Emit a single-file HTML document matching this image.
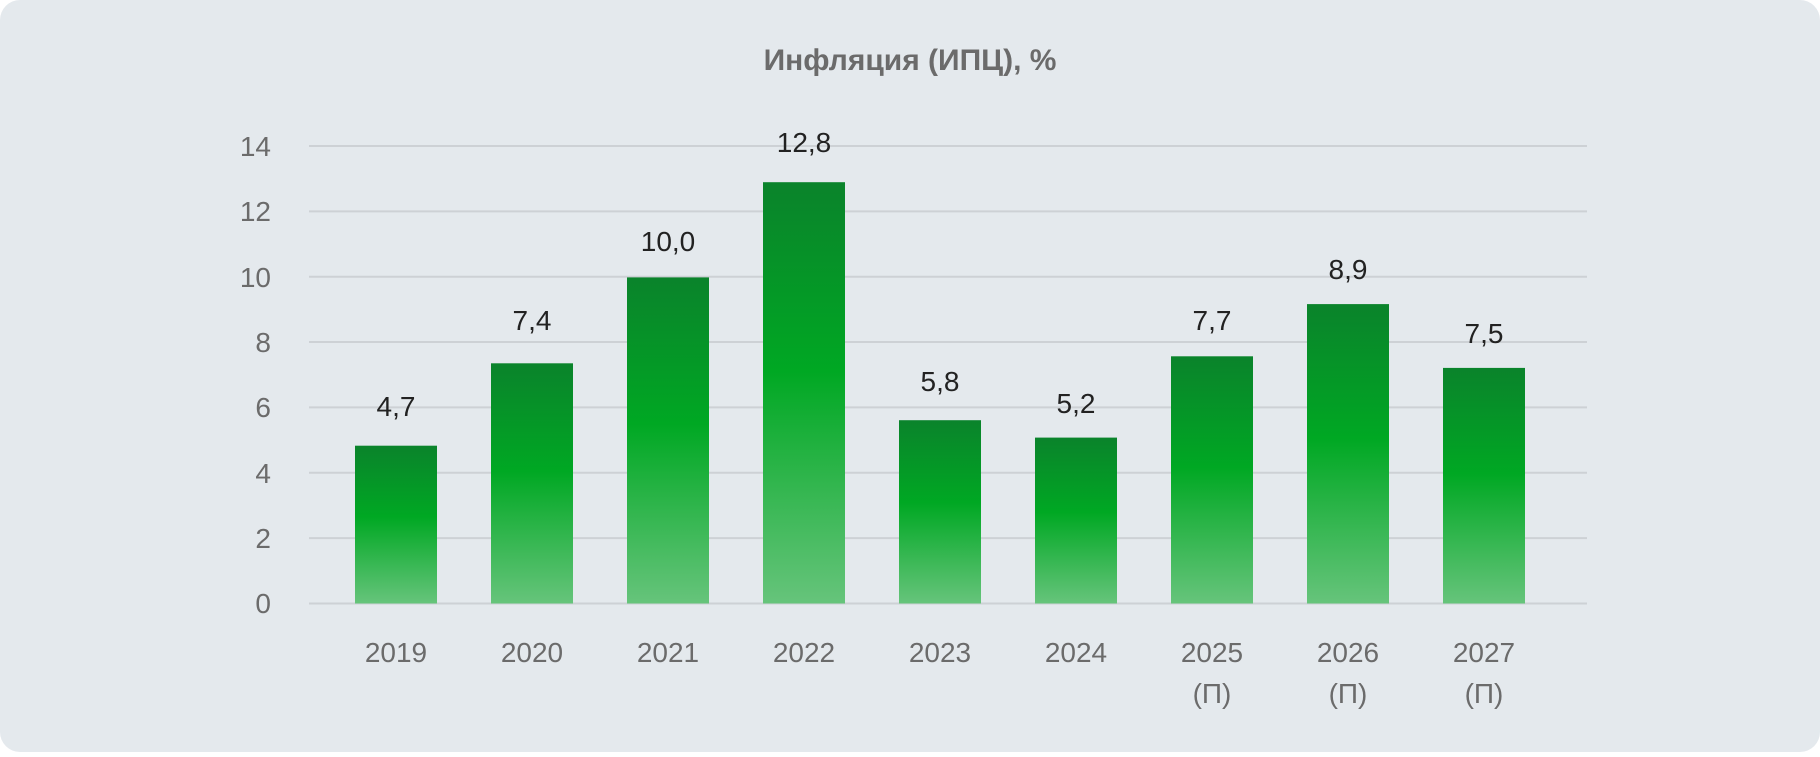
<!DOCTYPE html>
<html><head><meta charset="utf-8"><style>
html,body{margin:0;padding:0;background:#fff;}
body{width:1820px;height:752px;overflow:hidden;font-family:"Liberation Sans","DejaVu Sans",sans-serif;}
</style></head><body>
<svg width="1820" height="752" xmlns="http://www.w3.org/2000/svg" font-family="Liberation Sans, DejaVu Sans, sans-serif">
<defs>
<linearGradient id="g" x1="0" y1="0" x2="0" y2="1">
<stop offset="0" stop-color="#0a832b"/>
<stop offset="0.45" stop-color="#00a823"/>
<stop offset="1" stop-color="#66c47b"/>
</linearGradient>
</defs>
<rect x="0" y="0" width="1820" height="752" rx="20" fill="#e4e9ed"/>
<text x="910" y="70" text-anchor="middle" font-size="30" font-weight="bold" fill="#6b6b6b">Инфляция (ИПЦ), %</text>
<g stroke="#cdd1d5" stroke-width="2">
<line x1="309" x2="1587" y1="146" y2="146"/>
<line x1="309" x2="1587" y1="211.4" y2="211.4"/>
<line x1="309" x2="1587" y1="276.7" y2="276.7"/>
<line x1="309" x2="1587" y1="342" y2="342"/>
<line x1="309" x2="1587" y1="407.4" y2="407.4"/>
<line x1="309" x2="1587" y1="472.8" y2="472.8"/>
<line x1="309" x2="1587" y1="538.1" y2="538.1"/>
<line x1="309" x2="1587" y1="603.5" y2="603.5"/>
</g>
<g font-size="28" fill="#6b6b6b" text-anchor="end">
<text x="271" y="156">14</text>
<text x="271" y="221">12</text>
<text x="271" y="287">10</text>
<text x="271" y="352">8</text>
<text x="271" y="417">6</text>
<text x="271" y="483">4</text>
<text x="271" y="548">2</text>
<text x="271" y="613">0</text>
</g>
<g fill="url(#g)">
<rect x="355" y="445.7" width="82" height="157.8"/>
<rect x="491" y="363.3" width="82" height="240.2"/>
<rect x="627" y="277.4" width="82" height="326.1"/>
<rect x="763" y="182.2" width="82" height="421.3"/>
<rect x="899" y="420.2" width="82" height="183.3"/>
<rect x="1035" y="437.6" width="82" height="165.9"/>
<rect x="1171" y="356.3" width="82" height="247.2"/>
<rect x="1307" y="304.1" width="82" height="299.4"/>
<rect x="1443" y="367.9" width="82" height="235.6"/>
</g>
<g font-size="28" fill="#222" text-anchor="middle">
<text x="396" y="416">4,7</text>
<text x="532" y="330">7,4</text>
<text x="668" y="251">10,0</text>
<text x="804" y="152">12,8</text>
<text x="940" y="391">5,8</text>
<text x="1076" y="413">5,2</text>
<text x="1212" y="330">7,7</text>
<text x="1348" y="279">8,9</text>
<text x="1484" y="343">7,5</text>
</g>
<g font-size="28" fill="#6b6b6b" text-anchor="middle">
<text x="396" y="662">2019</text>
<text x="532" y="662">2020</text>
<text x="668" y="662">2021</text>
<text x="804" y="662">2022</text>
<text x="940" y="662">2023</text>
<text x="1076" y="662">2024</text>
<text x="1212" y="662">2025</text>
<text x="1348" y="662">2026</text>
<text x="1484" y="662">2027</text>
<text x="1212" y="703">(П)</text>
<text x="1348" y="703">(П)</text>
<text x="1484" y="703">(П)</text>
</g>
</svg>
</body></html>
